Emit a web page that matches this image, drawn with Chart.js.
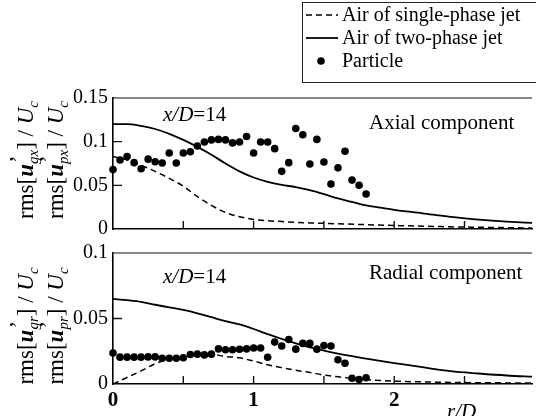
<!DOCTYPE html>
<html>
<head>
<meta charset="utf-8">
<script src="https://cdn.jsdelivr.net/npm/chart.js@4.4.1/dist/chart.umd.min.js"></script>
<style>
  html, body { margin: 0; padding: 0; background: #fff; }
  #wrap { position: relative; width: 536px; height: 416px; overflow: hidden; background: #fff; }
  #wrap canvas { position: absolute; left: 0; }
  #top { top: 0; }
  #bot { top: 236px; }
</style>
</head>
<body>
<div id="wrap">
  <canvas id="top" width="536" height="246"></canvas>
  <canvas id="bot" width="536" height="180"></canvas>
</div>
<script>
const SERIF = "'Liberation Serif', 'DejaVu Serif', serif"

// particle positions r/D (same for both components)
const particleX = [0, 0.05, 0.1, 0.15, 0.2, 0.25, 0.3, 0.35, 0.4, 0.45, 0.5, 0.55, 0.6, 0.65, 0.7, 0.75, 0.8, 0.85, 0.9,
   0.95, 1.0, 1.05, 1.1, 1.15, 1.2, 1.25, 1.3, 1.35, 1.4, 1.45, 1.5, 1.55, 1.6, 1.65, 1.7, 1.75, 1.8]
const axialParticle = [0.068, 0.079, 0.083, 0.076, 0.069, 0.080, 0.077, 0.0756, 0.087, 0.0756, 0.087, 0.0885, 0.095,
   0.0997, 0.102, 0.1026, 0.102, 0.0986, 0.0997, 0.106, 0.087, 0.0997, 0.0997, 0.092, 0.066, 0.076, 0.115, 0.108,
   0.0744, 0.1026, 0.0767, 0.0515, 0.070, 0.089, 0.056, 0.050, 0.040]
const radialParticle = [0.0237, 0.0205, 0.0205, 0.0205, 0.0205, 0.0207, 0.0207, 0.0197, 0.0197, 0.0197, 0.0200, 0.0225,
   0.0228, 0.0222, 0.0228, 0.0268, 0.0262, 0.0262, 0.0265, 0.0268, 0.0275, 0.0275, 0.0204, 0.032, 0.029, 0.034,
   0.0266, 0.031, 0.031, 0.0266, 0.0293, 0.029, 0.0185, 0.0158, 0.0044, 0.0034, 0.0048]

// air curves
const axialTwoX = [0, 0.1, 0.2, 0.3, 0.4, 0.5, 0.6, 0.7, 0.8, 0.9, 1.0, 1.1, 1.2, 1.3, 1.4, 1.5, 1.6, 1.7, 1.8, 1.9, 2.0,
   2.2, 2.4, 2.6, 2.8, 3.0]
const axialTwo = [0.120, 0.120, 0.118, 0.1145, 0.109, 0.102, 0.094, 0.085, 0.075, 0.066, 0.059, 0.054, 0.0505, 0.048,
   0.0445, 0.040, 0.035, 0.031, 0.027, 0.0245, 0.022, 0.018, 0.0138, 0.0108, 0.0085, 0.0068]
const axialSingleX = [0, 0.1, 0.2, 0.3, 0.4, 0.5, 0.6, 0.7, 0.8, 0.9, 1.0, 1.2, 1.4, 1.6, 1.8, 2.0, 2.4, 2.8, 3.0]
const axialSingle = [0.083, 0.079, 0.073, 0.066, 0.058, 0.049, 0.037, 0.027, 0.019, 0.014, 0.011, 0.0085, 0.007, 0.006,
   0.005, 0.004, 0.0025, 0.0015, 0.001]

const radialTwoX = [0, 0.1, 0.2, 0.3, 0.4, 0.5, 0.6, 0.7, 0.8, 0.9, 1.0, 1.1, 1.2, 1.3, 1.4, 1.5, 1.6, 1.7, 1.8, 1.9,
   2.0, 2.2, 2.4, 2.6, 2.8, 3.0]
const radialTwo = [0.065, 0.064, 0.0627, 0.0605, 0.0585, 0.0565, 0.054, 0.051, 0.048, 0.0455, 0.042, 0.038, 0.0345,
   0.031, 0.028, 0.0255, 0.0232, 0.0212, 0.0194, 0.0176, 0.016, 0.0128, 0.0098, 0.008, 0.0065, 0.0055]
const radialSingleX = [0, 0.1, 0.2, 0.3, 0.4, 0.5, 0.6, 0.7, 0.8, 0.9, 1.0, 1.1, 1.2, 1.3, 1.4, 1.5, 1.6, 1.7, 1.8, 1.9,
   2.0, 2.2, 2.5, 3.0]
const radialSingle = [0, 0.005, 0.010, 0.0155, 0.019, 0.021, 0.0225, 0.0225, 0.021, 0.020, 0.0175, 0.0147, 0.0125,
   0.0105, 0.0088, 0.0068, 0.0055, 0.0043, 0.0034, 0.0027, 0.0022, 0.0016, 0.0011, 0.0007]

const xTicks = [0, 0.5, 1, 1.5, 2, 2.5]
const xLabels = ['0', '', '1', '', '2', '']
const legendLabels = ['Air of single-phase jet', 'Air of two-phase jet', 'Particle']

const X_MAX = 2.98

const pts = (xs, ys) => xs.map((x, i) => ({x: x, y: ys[i]}))

function datasets(single, two, part) {
   return [
      {label: legendLabels[0], type: 'line', data: single, borderColor: '#000', borderWidth: 1.5, borderDash: [6, 4],
         pointRadius: 0, cubicInterpolationMode: 'monotone', order: 2},
      {label: legendLabels[1], type: 'line', data: two, borderColor: '#000', borderWidth: 1.8,
         pointRadius: 0, cubicInterpolationMode: 'monotone', order: 1},
      {label: legendLabels[2], type: 'scatter', data: part, backgroundColor: '#000', borderColor: '#000',
         pointRadius: 3.8, borderWidth: 0, clip: false, order: 0}
   ]
}

// rotated y-title with subscripts
function yTitle(ctx, cx, cy, sub) {
   const N = '23px ' + SERIF, BI = 'bold italic 23px ' + SERIF, I = 'italic 23px ' + SERIF, S = 'italic 15px ' + SERIF
   const segs = [
      ['rms[', N, 0, true], ['u', BI, 0, true], ['\u2019', N, -8, false], [sub, S, 5, true],
      [']', N, 0, true], [' / ', N, 0, true], ['U', I, 0, true], ['c', S, 5, true]
   ]
   ctx.save()
   let w = 0
   segs.forEach(s => { ctx.font = s[1]; if (s[3]) w += ctx.measureText(s[0]).width })
   ctx.translate(cx, cy)
   ctx.rotate(-Math.PI / 2)
   ctx.fillStyle = '#000'
   ctx.textBaseline = 'alphabetic'
   let p = -w / 2
   segs.forEach(s => {
      ctx.font = s[1]
      ctx.fillText(s[0], s[0] === '\u2019' ? p + 1 : p, 7 + s[2])
      if (s[3]) p += ctx.measureText(s[0]).width
   })
   ctx.restore()
}

const frame = {
   id: 'frame',
   afterDraw(chart, args, o) {
      const {ctx, chartArea: a, scales: {x, y}} = chart
      ctx.save()
      ctx.strokeStyle = '#111'
      ctx.lineWidth = 1.2
      ctx.beginPath()
      ctx.moveTo(a.left, a.top)
      ctx.lineTo(a.right, a.top)
      ctx.stroke()
      // inward tick marks
      ctx.lineWidth = 1.4
      ctx.beginPath()
      x.ticks.forEach(t => {
         if (t.value <= 0) return
         const px = x.getPixelForValue(t.value)
         ctx.moveTo(px, a.bottom)
         ctx.lineTo(px, a.bottom - 8)
      })
      y.ticks.forEach(t => {
         if (t.value <= 0 || t.value >= y.max) return
         const py = y.getPixelForValue(t.value)
         ctx.moveTo(a.left, py)
         ctx.lineTo(a.left + 9, py)
      })
      ctx.stroke()

      ctx.fillStyle = '#000'
      ctx.textBaseline = 'alphabetic'
      // x/D=14
      ctx.font = 'italic 21px ' + SERIF
      ctx.fillText('x/D', 163, o.tagY)
      const w = ctx.measureText('x/D').width
      ctx.font = '21px ' + SERIF
      ctx.fillText('=14', 163 + w, o.tagY)
      ctx.font = '21px ' + SERIF
      ctx.fillText(o.comp, 369, o.compY)

      yTitle(ctx, 26, o.titleY, o.subs[0])
      yTitle(ctx, 56, o.titleY, o.subs[1])

      if (o.xTitle) {
         ctx.font = 'italic 21px ' + SERIF
         ctx.textAlign = 'center'
         ctx.fillText(o.xTitle, x.getPixelForValue(2.48), 182)
      }
      ctx.restore()
   }
}

// legend box drawn from the dataset styles
const boxLegend = {
   id: 'boxLegend',
   afterDraw(chart) {
      const ctx = chart.ctx
      const ds = chart.data.datasets
      const left = 302, top = 2, rowY = [15, 38, 61]
      ctx.save()
      ctx.strokeStyle = '#222'
      ctx.lineWidth = 1
      ctx.strokeRect(left + 0.5, top + 0.5, 300, 80)
      ctx.font = '20px ' + SERIF
      ctx.fillStyle = '#000'
      ctx.textBaseline = 'middle'
      ds.forEach((d, i) => {
         const yy = rowY[i]
         ctx.strokeStyle = '#000'
         if (d.type === 'line') {
            ctx.lineWidth = d.borderWidth
            ctx.setLineDash(d.borderDash || [])
            ctx.beginPath()
            ctx.moveTo(306, yy)
            ctx.lineTo(338, yy)
            ctx.stroke()
            ctx.setLineDash([])
         } else {
            ctx.beginPath()
            ctx.arc(321, yy, d.pointRadius, 0, Math.PI * 2)
            ctx.fill()
         }
         ctx.fillText(d.label, 342, yy + 1)
      })
      ctx.restore()
   }
}

function yScale(max) {
   return {
      min: 0, max: max,
      grid: {display: false, drawTicks: false},
      border: {display: true, color: '#000', width: 1.6},
      ticks: {stepSize: 0.05, padding: 5, color: '#000', font: {family: SERIF, size: 20},
         callback: v => String(+v.toFixed(2))},
      afterFit: s => { s.width = 113 }
   }
}

function xScale(show) {
   return {
      type: 'linear', min: 0, max: X_MAX,
      grid: {display: false, drawTicks: false},
      border: {display: true, color: '#000', width: 1.6},
      afterBuildTicks: s => { s.ticks = xTicks.map(v => ({value: v})) },
      ticks: {display: show, autoSkip: false, maxRotation: 0, padding: 4, color: '#000',
         font: {family: SERIF, size: 21, weight: 'bold'},
         callback: v => xLabels[xTicks.indexOf(v)] || ''},
      afterFit: s => { s.height = show ? 32 : 0 }
   }
}

const common = {
   responsive: false,
   animation: false,
   events: [],
   plugins: {legend: {display: false}, tooltip: {enabled: false}}
}

new Chart(document.getElementById('top'), {
   type: 'scatter',
   data: {datasets: datasets(pts(axialSingleX, axialSingle), pts(axialTwoX, axialTwo), pts(particleX, axialParticle))},
   options: Object.assign({}, common, {
      layout: {padding: {top: 98, bottom: 13, left: 0, right: 0}},
      scales: {x: xScale(false), y: yScale(0.15)},
      plugins: Object.assign({}, common.plugins, {
         frame: {tagY: 121, comp: 'Axial component', compY: 129, titleY: 160, subs: ['gx', 'px']}
      })
   }),
   plugins: [frame, boxLegend]
})

new Chart(document.getElementById('bot'), {
   type: 'scatter',
   data: {datasets: datasets(pts(radialSingleX, radialSingle), pts(radialTwoX, radialTwo), pts(particleX, radialParticle))},
   options: Object.assign({}, common, {
      layout: {padding: {top: 13, bottom: 0, left: 0, right: 0}},
      scales: {x: xScale(true), y: yScale(0.1)},
      plugins: Object.assign({}, common.plugins, {
         frame: {tagY: 47, comp: 'Radial component', compY: 43, titleY: 90, subs: ['gr', 'pr'], xTitle: 'r/D'}
      })
   }),
   plugins: [frame]
})
</script>
</body>
</html>
